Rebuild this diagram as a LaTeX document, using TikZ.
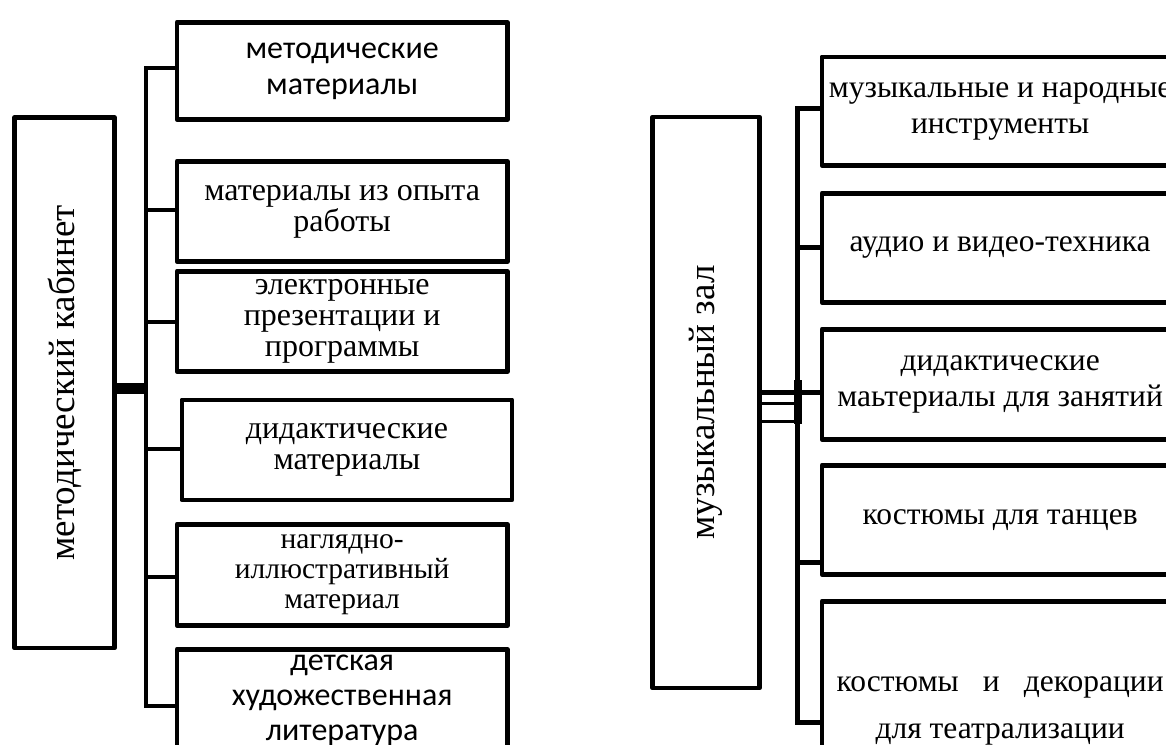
\documentclass[tikz,border=0pt]{standalone}
\usepackage{fontspec}
\setmainfont{Liberation Serif}
\newfontfamily\calib{Carlito}
\begin{document}
\begin{tikzpicture}[x=1pt,y=-1pt,
  box/.style={draw, line width=4.8pt, inner sep=0pt, align=center, anchor=north west, line join=round},
  mainbox/.style={draw, line width=4.8pt, inner sep=0pt, align=center, rotate=90, line join=round, font={\fontsize{37}{40}\selectfont}},
  ser/.style={font={\fontsize{32}{31}\selectfont}},
  sersm/.style={font={\fontsize{29.5}{30}\selectfont}},
  sans/.style={font={\calib\fontsize{32}{36}\selectfont}},
  serR/.style={font={\fontsize{31.5}{36}\selectfont}},
  conn/.style={line width=4.8pt},
  connR/.style={line width=5pt}]
\useasboundingbox (0,0) rectangle (1166,744);
\clip (0,0) rectangle (1166,744);

% ---------- left group ----------
\node[mainbox, minimum width=530.5pt, minimum height=100pt] (LM) at (64.5,382.75) {методический кабинет};

\node[box, sans, minimum width=330.5pt, minimum height=97pt] (L1) at (174.5,20) {методические\\материалы};
\node[box, ser, minimum width=330.5pt, minimum height=100pt] (L2) at (174.5,159) {материалы из опыта\\работы};
\node[box, ser, minimum width=330.5pt, minimum height=100pt] (L3) at (174.5,269) {электронные\\презентации и\\программы};
\node[box, ser, minimum width=330pt, minimum height=100pt] (L4) at (179.5,397.5) {дидактические\\материалы};
\node[box, sersm, minimum width=330.5pt, minimum height=101pt] (L5) at (174.5,522) {наглядно-\\иллюстративный\\материал};
\node[box, font={\calib\fontsize{32}{35}\selectfont}, minimum width=330.5pt, minimum height=102pt] (L6) at (174.5,647) {детская\\художественная\\литература};

\coordinate (t1) at (146,68);
\coordinate (t2) at (146,210);
\coordinate (t3) at (146,322);
\coordinate (tj) at (146,388);
\coordinate (t4) at (146,449);
\coordinate (t5) at (146,577);
\coordinate (t6) at (146,706);

\draw[conn] (t1 -| L1.west) -- (t1) -- (t6) -- (t6 -| L6.west);
\draw[conn] (t2) -- (t2 -| L2.west);
\draw[conn] (t3) -- (t3 -| L3.west);
\draw[conn] (t4) -- (t4 -| L4.west);
\draw[conn] (t5) -- (t5 -| L5.west);
\draw[line width=11pt] (tj -| LM.south) -- ([xshift=2pt]tj);

% ---------- right group ----------
\node[mainbox, minimum width=571pt, minimum height=107pt] (RM) at (706,402.5) {музыкальный зал};

\node[box, serR, minimum width=356.5pt, minimum height=108.5pt] (R1) at (819.5,54.5) {музыкальные и народные\\инструменты};
\node[box, serR, minimum width=356.5pt, minimum height=109pt] (R2) at (819.5,191) {аудио и видео-техника};
\node[box, serR, minimum width=356.5pt, minimum height=110pt] (R3) at (819.5,327) {дидактические\\маьтериалы для занятий};
\node[box, serR, minimum width=356.5pt, minimum height=109pt] (R4) at (819.5,463) {костюмы для танцев};
\node[box, font={\fontsize{31.5}{47}\selectfont}, minimum width=356.5pt, minimum height=220pt] (R5) at (819.5,599) {\makebox[327pt]{костюмы\hfill и\hfill декорации}\\для театрализации};

\coordinate (r1) at (797,108);
\coordinate (r2) at (797,247);
\coordinate (r3) at (797,392.5);
\coordinate (rc2) at (797,403.5);
\coordinate (rc3) at (797,421.5);
\coordinate (r4) at (797,562);
\coordinate (r5) at (797,722);

\draw[connR] (r1 -| R1.west) -- (r1) -- (r5) -- (r5 -| R5.west);
\draw[line width=8pt] (798,380) -- (798,424);
\draw[connR] (r2) -- (r2 -| R2.west);
\draw[connR] (r3 -| RM.south) -- (r3 -| R3.west);
\draw[line width=3.5pt] (rc2 -| RM.south) -- (rc2);
\draw[line width=3.5pt] (rc3 -| RM.south) -- (rc3);
\draw[connR] (r4) -- (r4 -| R4.west);
\end{tikzpicture}
\end{document}
